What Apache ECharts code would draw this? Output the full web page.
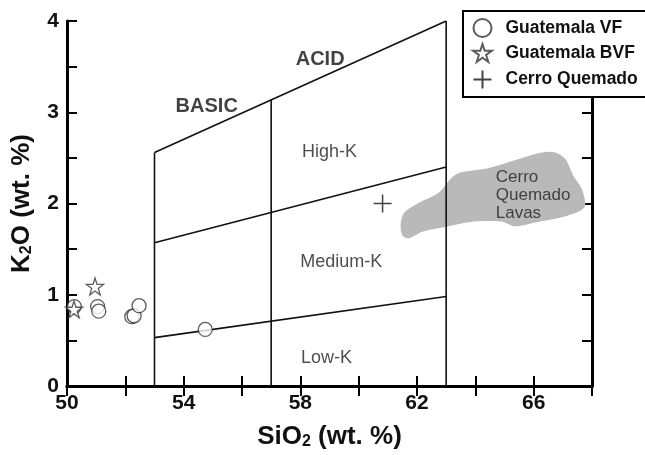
<!DOCTYPE html>
<html><head><meta charset="utf-8">
<script src="https://cdn.jsdelivr.net/npm/echarts@6/dist/echarts.min.js"></script>
<style>html,body{margin:0;padding:0;background:#fff}#c{width:645px;height:455px}</style>
</head><body><div id="c"></div>
<script>
// ---- data ----
const guatemalaVF = [[50.25,0.87],[51.05,0.87],[51.09,0.82],[52.22,0.76],[52.30,0.77],[52.47,0.88],[54.74,0.62]];
const guatemalaBVF = [[50.24,0.84],[50.96,1.09]];
const cerroQuemado = [[60.82,2.0]];
const lavaField = [[61.44,1.78],[61.56,1.90],[61.96,1.99],[62.75,2.12],[63.21,2.29],[63.49,2.34],[64.46,2.39],[65.60,2.50],[66.28,2.56],[66.74,2.56],[67.08,2.49],[67.37,2.30],[67.65,2.16],[67.77,1.98],[67.60,1.92],[66.97,1.85],[66.17,1.80],[65.37,1.75],[64.92,1.80],[63.89,1.80],[63.09,1.75],[62.18,1.69],[61.73,1.62],[61.50,1.65]];
const boundaryLines = [
  [[53,2.56],[63,4.0]],
  [[53,0],[53,2.56]],
  [[57,0],[57,3.14]],
  [[63,0],[63,4.0]],
  [[53,1.57],[63,2.40]],
  [[53,0.53],[63,0.98]]
];
const boldLabels = [{name:'ACID',value:[58.68,3.575]},{name:'BASIC',value:[54.79,3.06]}];
const fieldLabels = [{name:'High-K',value:[59.0,2.56]},{name:'Medium-K',value:[59.4,1.36]},{name:'Low-K',value:[58.9,0.305]}];
const lavaLabel = [{name:'Cerro\nQuemado\nLavas',value:[64.70,2.09]}];
const xTickLabels = [50,54,58,62,66];
const yTickLabels = [0,1,2,3,4];

const FONT = '"Liberation Sans", Arial, sans-serif';
const STAR = 'path://M50,2 L61,36 L97,36 L68,57 L79,92 L50,71 L21,92 L32,57 L3,36 L39,36 Z';
const CROSS = 'path://M0,50 L100,50 M50,0 L50,100';

const chart = echarts.init(document.getElementById('c'), null, {renderer:'canvas'});
const axisLine = {show:true, lineStyle:{color:'#000', width:3}};
const axisTick = {show:true, inside:true, length:10, lineStyle:{color:'#000', width:2}};
const lineSeries = boundaryLines.map(seg => ({
  type:'line', data:seg, symbol:'none', silent:true, z:5,
  lineStyle:{color:'#111', width:1.6}
}));
const nameRich = {a:{fontFamily:FONT,fontWeight:'bold',fontSize:26,color:'#111'},
                  s:{fontFamily:FONT,fontWeight:'bold',fontSize:16,color:'#111',padding:[11,0,0,0]}};

chart.setOption({
  animation:false,
  backgroundColor:'#fff',
  grid:{left:67, right:53, top:21, bottom:67},
  legend:{
    data:['Guatemala VF','Guatemala BVF','Cerro Quemado'],
    orient:'vertical', left:463, top:11,
    padding:[7,30,6,8], itemGap:5, itemWidth:24, itemHeight:18,
    backgroundColor:'#fff', borderColor:'#000', borderWidth:2,
    textStyle:{fontFamily:FONT, fontWeight:'bold', fontSize:17.5, color:'#111', padding:[0,0,0,6]},
    z:20
  },
  xAxis:[
    {type:'value', min:50, max:68, interval:2, position:'bottom',
     axisLine:axisLine, axisTick:axisTick, splitLine:{show:false},
     axisLabel:{fontFamily:FONT, fontWeight:'bold', fontSize:21, color:'#111', margin:7,
       formatter:v => xTickLabels.indexOf(v) >= 0 ? String(v) : ''},
     name:'{a|SiO}{s|2}{a| (wt. %)}', nameLocation:'middle', nameGap:37,
     nameTextStyle:{rich:nameRich}},
    {type:'value', min:50, max:68, interval:2, position:'top',
     axisLine:axisLine, axisTick:axisTick, axisLabel:{show:false}, splitLine:{show:false}}
  ],
  yAxis:[
    {type:'value', min:0, max:4, interval:0.5, position:'left',
     axisLine:axisLine, axisTick:axisTick, splitLine:{show:false},
     axisLabel:{fontFamily:FONT, fontWeight:'bold', fontSize:21, color:'#111', margin:8,
       formatter:v => yTickLabels.indexOf(v) >= 0 ? String(v) : ''},
     name:'{a|K}{s|2}{a|O (wt. %)}', nameLocation:'middle', nameGap:32, nameRotate:90,
     nameTextStyle:{rich:nameRich}},
    {type:'value', min:0, max:4, interval:0.5, position:'right',
     axisLine:axisLine, axisTick:axisTick, axisLabel:{show:false}, splitLine:{show:false}}
  ],
  series:[
    {type:'custom', silent:true, z:1, data:[0],
     renderItem:(params, api) => ({
       type:'polygon',
       shape:{points:lavaField.map(p => api.coord(p)), smooth:0.3},
       style:{fill:'#b9b9b9', stroke:null}
     })},
    ...lineSeries,
    {type:'scatter', name:'Guatemala VF', data:guatemalaVF, symbol:'circle', symbolSize:14, z:10,
     itemStyle:{color:'#fff', borderColor:'#333', borderWidth:1.3}},
    {type:'scatter', name:'Guatemala BVF', data:guatemalaBVF, symbol:STAR, symbolSize:17, z:10,
     itemStyle:{color:'#fff', borderColor:'#333', borderWidth:1.3}},
    {type:'scatter', name:'Cerro Quemado', data:cerroQuemado, symbol:CROSS, symbolSize:18, z:10,
     itemStyle:{color:'none', borderColor:'#111', borderWidth:1.5}},
    {type:'scatter', data:boldLabels, symbolSize:0, silent:true, z:6,
     label:{show:true, position:'inside', formatter:p => p.name, fontFamily:FONT, fontWeight:'bold', fontSize:20, color:'#111'}},
    {type:'scatter', data:fieldLabels, symbolSize:0, silent:true, z:6,
     label:{show:true, position:'inside', formatter:p => p.name, fontFamily:FONT, fontSize:18, color:'#222'}},
    {type:'scatter', data:lavaLabel, symbolSize:0, silent:true, z:6,
     label:{show:true, position:'inside', align:'left', formatter:p => p.name, fontFamily:FONT, fontSize:17, lineHeight:18, color:'#222'}}
  ]
});
</script></body></html>
